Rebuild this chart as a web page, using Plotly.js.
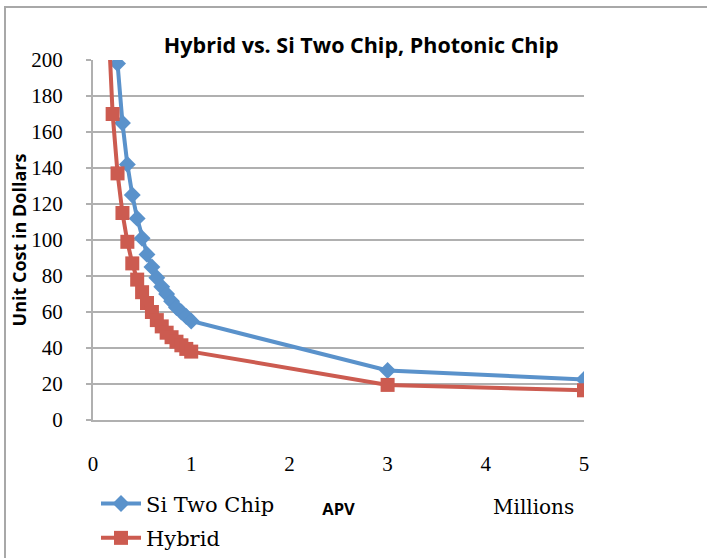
<!DOCTYPE html>
<html>
<head>
<meta charset="utf-8">
<script src="https://cdn.plot.ly/plotly-3.0.1.min.js"></script>
<style>html,body{margin:0;padding:0;background:#fff;}</style>
</head>
<body>
<div id="chart" style="width:707px;height:558px;"></div>
<script>
// APV in millions
const siApv = [0.25, 0.30, 0.35, 0.40, 0.45, 0.50, 0.55, 0.60, 0.65, 0.70, 0.75, 0.80, 0.85, 0.90, 0.95, 1.00, 3, 5];
const siCost = [198, 165, 142, 125, 112, 101, 92, 85, 79, 74, 70, 66, 62.5, 60, 57.5, 55, 27.5, 22.5];
const hybridApv = [0.15, 0.20, 0.25, 0.30, 0.35, 0.40, 0.45, 0.50, 0.55, 0.60, 0.65, 0.70, 0.75, 0.80, 0.85, 0.90, 0.95, 1.00, 3, 5];
const hybridCost = [228, 170, 137, 115, 99, 87, 78, 71, 65, 60, 55.5, 52, 48.5, 46, 43.5, 41.5, 39.5, 38, 19.5, 16.5];
const seriesNames = ['Si Two Chip', 'Hybrid'];
const xTicks = [0, 1, 2, 3, 4, 5];
const yTicks = [0, 20, 40, 60, 80, 100, 120, 140, 160, 180, 200];

const blue = '#5A92CB';
const red = '#CC5B50';
const gridGray = '#B0B0B0';
const serif = '"Liberation Serif", "DejaVu Serif", serif';
const wideSerif = '"DejaVu Serif", "Liberation Serif", serif';
const sans = '"Open Sans", Lato, sans-serif';

const traces = [
  {
    x: siApv, y: siCost, name: seriesNames[0], type: 'scatter', mode: 'lines+markers',
    legendgroup: 'si',
    line: {color: blue, width: 4},
    marker: {symbol: 'diamond', size: 13, color: blue}
  },
  {
    x: hybridApv, y: hybridCost, name: seriesNames[1], type: 'scatter', mode: 'lines+markers',
    legendgroup: 'hybrid',
    line: {color: red, width: 4},
    marker: {symbol: 'square', size: 14, color: red}
  }
];

const layout = {
  width: 707, height: 558,
  margin: {l: 93, r: 123, t: 60, b: 137.5, autoexpand: false},
  paper_bgcolor: '#ffffff', plot_bgcolor: '#ffffff',
  title: {
    text: 'Hybrid vs. Si Two Chip, Photonic Chip',
    font: {family: sans, size: 21.5, color: '#000', weight: 'bold'},
    x: 0.511, xanchor: 'center', xref: 'container',
    y: 1 - 45/558, yanchor: 'middle', yref: 'container'
  },
  xaxis: {
    range: [0, 5], tickvals: xTicks, ticktext: xTicks.map(String),
    showgrid: false, zeroline: false, automargin: false,
    showline: true, linecolor: gridGray, linewidth: 2,
    ticks: '', ticklabelstandoff: 24,
    tickfont: {family: serif, size: 21, color: '#000'},
    title: {text: 'APV', font: {family: sans, size: 16.5, color: '#000', weight: 'bold'}, standoff: 28}
  },
  yaxis: {
    range: [0, 200], tickvals: yTicks, ticktext: yTicks.map(String),
    showgrid: true, gridcolor: gridGray, gridwidth: 1.5,
    zeroline: false, showline: true, linecolor: gridGray, linewidth: 2, automargin: false,
    ticks: 'outside', ticklen: 5, tickcolor: gridGray, tickwidth: 1.5,
    ticklabelstandoff: 19,
    tickfont: {family: serif, size: 21, color: '#000'},
    title: {text: 'Unit Cost in Dollars', font: {family: sans, size: 18, color: '#000', weight: 'bold'}, standoff: 0}
  },
  showlegend: true,
  legend: {
    x: (96 - 93) / 491, xanchor: 'left',
    y: (420.5 - 484) / 360.5, yanchor: 'top',
    font: {family: wideSerif, size: 21, color: '#000'},
    bgcolor: 'rgba(0,0,0,0)', borderwidth: 0,
    traceorder: 'grouped', tracegroupgap: 4, itemwidth: 40
  },
  annotations: [
    {
      text: 'Millions', xref: 'paper', yref: 'paper',
      x: (533 - 93) / 491, y: (420.5 - 508) / 360.5,
      xanchor: 'center', yanchor: 'middle', showarrow: false,
      font: {family: wideSerif, size: 20, color: '#000'}
    }
  ],
  shapes: [
    {
      type: 'rect', xref: 'paper', yref: 'paper', layer: 'below',
      x0: (5 - 93) / 491, x1: 1.5,
      y0: -0.6, y1: (420.5 - 7) / 360.5,
      line: {color: '#A8A8A8', width: 2}, fillcolor: 'rgba(0,0,0,0)'
    }
  ]
};

Plotly.newPlot('chart', traces, layout, {displayModeBar: false, staticPlot: true});
</script>
</body>
</html>
